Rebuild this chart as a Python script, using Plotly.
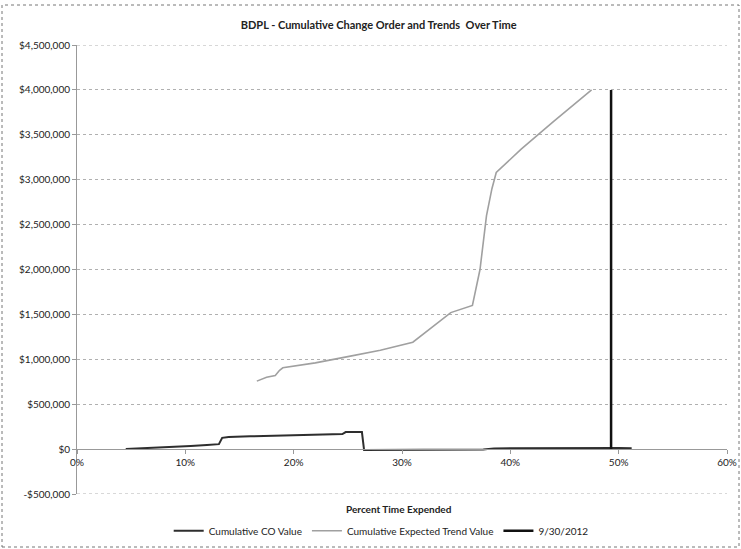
import plotly.graph_objects as go

# ---------------- data ----------------
co_pct = [4.5, 6, 8, 9.5, 10.5, 12, 13.1, 13.4, 14, 16, 18, 20, 22, 24.5, 24.8, 26.3, 26.5, 28, 30, 33, 36, 37.5, 38.5, 41, 44, 46, 48, 50, 51.2]
co_val = [0, 8000, 15000, 25000, 35000, 45000, 55000, 125000, 135000, 142000, 150000, 158000, 162000, 168000, 190000, 190000,
          -10000, -10000, -12000, -12000, -10000, -5000, 8000, 10000, 12000, 15000, 15000, 12000, 10000]

trend_pct = [16.6, 17.5, 18.3, 18.7, 19.0, 22, 25, 28, 31, 33, 34.5, 36.5, 37.2, 37.8, 38.3, 38.7, 41, 44, 47.5]
trend_val = [757000, 800000, 820000, 878000, 905000, 960000, 1030000, 1100000, 1190000, 1380000, 1520000, 1600000,
             2000000, 2600000, 2900000, 3080000, 3340000, 3650000, 4000000]

date_pct = [49.3, 49.3]
date_val = [0, 4000000]

x_ticks = [0, 10, 20, 30, 40, 50, 60]
x_labels = ["0%", "10%", "20%", "30%", "40%", "50%", "60%"]
y_ticks = [-500000, 0, 500000, 1000000, 1500000, 2000000, 2500000, 3000000, 3500000, 4000000, 4500000]
y_labels = ["-$500,000", "$0", "$500,000", "$1,000,000", "$1,500,000", "$2,000,000", "$2,500,000",
            "$3,000,000", "$3,500,000", "$4,000,000", "$4,500,000"]

FONT = "Lato"
TXT = "#222222"
GRID = "#b0b0b0"
Y_MIN, Y_MAX = y_ticks[0], y_ticks[-1]

fig = go.Figure()
fig.add_trace(go.Scatter(x=co_pct, y=co_val, mode="lines", name="Cumulative CO Value",
                         line=dict(color="#2e2e2e", width=2)))
fig.add_trace(go.Scatter(x=trend_pct, y=trend_val, mode="lines", name="Cumulative Expected Trend Value",
                         line=dict(color="#a0a0a0", width=1.6)))
fig.add_trace(go.Scatter(x=date_pct, y=date_val, mode="lines", name="9/30/2012",
                         line=dict(color="#111111", width=2.5)))

fig.update_layout(
    width=741, height=549,
    margin=dict(l=77, r=14, t=45, b=55, autoexpand=False),
    paper_bgcolor="white", plot_bgcolor="white",
    font=dict(family=FONT, size=10, color=TXT),
    title=dict(text="<b>BDPL - Cumulative Change Order and Trends  Over Time</b>",
               font=dict(family=FONT, size=11, color=TXT),
               xref="container", x=0.511, xanchor="center",
               yref="container", y=1 - 25 / 549, yanchor="middle"),
    xaxis=dict(range=[0, 60], tickvals=x_ticks, ticktext=x_labels, showgrid=False, zeroline=False,
               showline=True, linecolor="#999", linewidth=1, ticks="outside", ticklen=4, tickcolor="#999",
               anchor="free", position=(0 - Y_MIN) / (Y_MAX - Y_MIN),
               tickfont=dict(size=10, color=TXT)),
    yaxis=dict(range=[Y_MIN, Y_MAX], tickvals=y_ticks, ticktext=y_labels, showgrid=True,
               gridcolor=GRID, griddash="dot", gridwidth=1, zeroline=False,
               showline=True, linecolor="#999", linewidth=1, ticks="outside", ticklen=4, tickcolor="#999",
               tickfont=dict(size=10, color=TXT)),
    legend=dict(orientation="h", x=0.468, xanchor="center", y=-0.082, yanchor="middle",
                font=dict(size=10, color=TXT), bgcolor="rgba(0,0,0,0)", itemwidth=30),
    showlegend=True,
)

# edge gridlines (top and bottom of the value range)
for yv in (Y_MIN, Y_MAX):
    fig.add_shape(type="line", xref="paper", yref="y", x0=0, x1=1, y0=yv, y1=yv,
                  line=dict(color=GRID, width=1, dash="dot"), layer="below")

fig.add_annotation(text="<b>Percent Time Expended</b>", xref="paper", yref="paper",
                   x=(399 - 77) / 650, y=(494 - 509) / 449, showarrow=False,
                   font=dict(family=FONT, size=10, color=TXT), xanchor="center", yanchor="middle")

fig.add_shape(type="rect", xref="paper", yref="paper",
              x0=(2 - 77) / 650, x1=(739 - 77) / 650, y0=(494 - 547) / 449, y1=(494 - 5) / 449,
              line=dict(color="#777", width=1, dash="dot"), fillcolor="rgba(0,0,0,0)", layer="below")

fig.write_html("out.html")
